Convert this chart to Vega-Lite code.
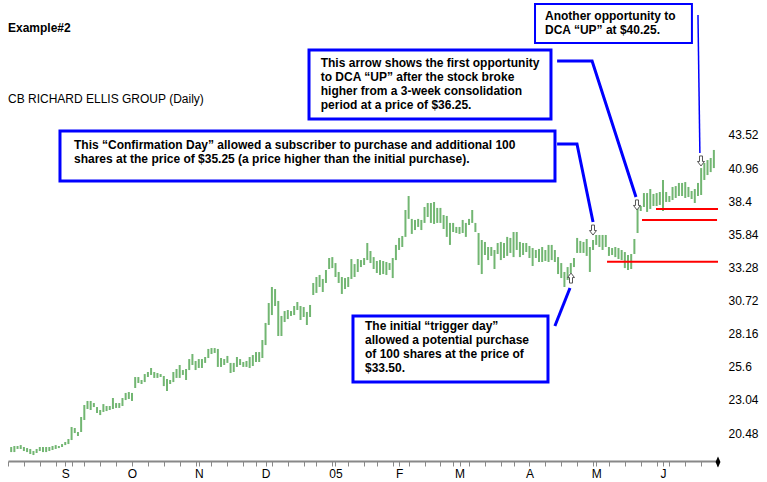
{
  "$schema": "https://vega.github.io/schema/vega-lite/v6.json",
  "width": 710,
  "height": 461,
  "autosize": {"type": "none"},
  "padding": {"left": 8, "top": 0, "right": 49, "bottom": 21},
  "background": "white",
  "config": {"view": {"stroke": null}, "font": "Liberation Sans"},
  "datasets": {
    "bars": [
      {"t":-17,"p":19.40,"lo":19.01},{"t":-16,"p":19.48,"lo":19.01},{"t":-15,"p":19.48,"lo":19.25},{"t":-14,"p":19.55,"lo":19.25},
      {"t":-13,"p":19.40,"lo":19.09},{"t":-12,"p":19.32,"lo":19.01},{"t":-11,"p":19.25,"lo":18.86},{"t":-10,"p":19.09,"lo":18.78},
      {"t":-9,"p":19.25,"lo":18.94},{"t":-8,"p":19.40,"lo":19.09},{"t":-7,"p":19.40,"lo":19.01},{"t":-6,"p":19.40,"lo":19.01},
      {"t":-5,"p":19.40,"lo":19.09},{"t":-4,"p":19.48,"lo":19.17},{"t":-3,"p":19.55,"lo":19.25},{"t":-2,"p":19.48,"lo":19.32},
      {"t":-1,"p":19.63,"lo":19.40},{"t":0,"p":19.79,"lo":19.55},{"t":1,"p":20.02,"lo":19.63},{"t":2,"p":20.95,"lo":19.94},
      {"t":3,"p":20.87,"lo":20.48},{"t":4,"p":20.56,"lo":20.25},{"t":5,"p":21.72,"lo":20.56},{"t":6,"p":22.65,"lo":21.49},
      {"t":7,"p":22.96,"lo":22.34},{"t":8,"p":22.96,"lo":22.26},{"t":9,"p":22.80,"lo":22.49},{"t":10,"p":22.49,"lo":22.03},
      {"t":11,"p":22.26,"lo":21.87},{"t":12,"p":22.72,"lo":22.11},{"t":13,"p":22.57,"lo":22.18},{"t":14,"p":22.57,"lo":22.26},
      {"t":15,"p":23.19,"lo":22.34},{"t":16,"p":22.80,"lo":22.42},{"t":17,"p":22.80,"lo":22.42},{"t":18,"p":23.19,"lo":22.57},
      {"t":19,"p":23.58,"lo":23.03},{"t":20,"p":23.65,"lo":23.11},{"t":21,"p":23.58,"lo":22.96},{"t":22,"p":24.81,"lo":23.96},
      {"t":23,"p":24.81,"lo":24.35},{"t":24,"p":24.58,"lo":24.27},{"t":25,"p":25.04,"lo":24.42},{"t":26,"p":25.20,"lo":24.81},
      {"t":27,"p":25.51,"lo":24.97},{"t":28,"p":25.20,"lo":24.74},{"t":29,"p":25.12,"lo":24.74},{"t":30,"p":25.04,"lo":24.81},
      {"t":31,"p":24.89,"lo":24.11},{"t":32,"p":24.66,"lo":23.73},{"t":33,"p":24.58,"lo":24.27},{"t":34,"p":25.20,"lo":24.42},
      {"t":35,"p":25.43,"lo":24.74},{"t":36,"p":25.74,"lo":24.74},{"t":37,"p":25.35,"lo":24.97},{"t":38,"p":25.43,"lo":24.58},
      {"t":39,"p":26.20,"lo":25.35},{"t":40,"p":26.59,"lo":25.74},{"t":41,"p":26.05,"lo":25.35},{"t":42,"p":26.20,"lo":25.51},
      {"t":43,"p":26.20,"lo":25.51},{"t":44,"p":26.36,"lo":25.90},{"t":45,"p":26.98,"lo":26.28},{"t":46,"p":27.05,"lo":26.59},
      {"t":47,"p":27.05,"lo":26.67},{"t":48,"p":26.98,"lo":25.59},{"t":49,"p":26.28,"lo":25.59},{"t":50,"p":26.20,"lo":25.74},
      {"t":51,"p":26.44,"lo":25.90},{"t":52,"p":25.90,"lo":25.12},{"t":53,"p":25.90,"lo":25.20},{"t":54,"p":26.36,"lo":25.59},
      {"t":55,"p":26.20,"lo":25.74},{"t":56,"p":25.97,"lo":25.59},{"t":57,"p":26.05,"lo":25.59},{"t":58,"p":26.36,"lo":25.51},
      {"t":59,"p":26.51,"lo":25.66},{"t":60,"p":26.74,"lo":25.97},{"t":61,"p":26.74,"lo":25.97},{"t":62,"p":27.67,"lo":26.28},
      {"t":63,"p":28.99,"lo":27.28},{"t":64,"p":30.53,"lo":28.83},{"t":65,"p":31.77,"lo":29.60},{"t":66,"p":31.61,"lo":30.30},
      {"t":67,"p":30.69,"lo":27.98},{"t":68,"p":29.53,"lo":27.98},{"t":69,"p":29.91,"lo":29.06},{"t":70,"p":29.99,"lo":29.29},
      {"t":71,"p":29.91,"lo":29.53},{"t":72,"p":30.30,"lo":29.60},{"t":73,"p":30.61,"lo":29.99},{"t":74,"p":30.30,"lo":29.22},
      {"t":75,"p":30.22,"lo":29.45},{"t":76,"p":29.84,"lo":28.83},{"t":77,"p":30.38,"lo":29.45},{"t":78,"p":32.08,"lo":31.15},
      {"t":79,"p":32.54,"lo":31.31},{"t":80,"p":32.70,"lo":31.77},{"t":81,"p":32.39,"lo":31.38},{"t":82,"p":33.08,"lo":32.08},
      {"t":83,"p":34.01,"lo":33.16},{"t":84,"p":34.08,"lo":33.23},{"t":85,"p":33.62,"lo":32.54},{"t":86,"p":32.93,"lo":32.08},
      {"t":87,"p":32.54,"lo":31.23},{"t":88,"p":32.46,"lo":31.61},{"t":89,"p":32.54,"lo":31.77},{"t":90,"p":33.93,"lo":32.39},
      {"t":91,"p":33.54,"lo":32.54},{"t":92,"p":33.93,"lo":32.93},{"t":93,"p":33.85,"lo":33.31},{"t":94,"p":34.01,"lo":33.47},
      {"t":95,"p":35.17,"lo":33.85},{"t":96,"p":34.55,"lo":33.62},{"t":97,"p":34.08,"lo":33.16},{"t":98,"p":33.78,"lo":32.85},
      {"t":99,"p":33.85,"lo":32.70},{"t":100,"p":33.78,"lo":32.77},{"t":101,"p":33.70,"lo":32.70},{"t":102,"p":33.62,"lo":33.08},
      {"t":103,"p":34.01,"lo":32.46},{"t":104,"p":35.02,"lo":33.85},{"t":105,"p":35.56,"lo":34.63},{"t":106,"p":35.71,"lo":34.86},
      {"t":107,"p":37.72,"lo":35.64},{"t":108,"p":38.80,"lo":37.03},{"t":109,"p":37.03,"lo":35.87},{"t":110,"p":36.95,"lo":36.17},
      {"t":111,"p":37.03,"lo":36.41},{"t":112,"p":36.95,"lo":36.17},{"t":113,"p":37.95,"lo":36.72},{"t":114,"p":38.26,"lo":37.18},
      {"t":115,"p":38.26,"lo":36.72},{"t":116,"p":38.34,"lo":36.64},{"t":117,"p":37.88,"lo":36.72},{"t":118,"p":37.88,"lo":36.72},
      {"t":119,"p":37.33,"lo":36.25},{"t":120,"p":37.26,"lo":35.64},{"t":121,"p":36.72,"lo":35.02},{"t":122,"p":36.72,"lo":36.02},
      {"t":123,"p":36.41,"lo":35.94},{"t":124,"p":36.41,"lo":35.87},{"t":125,"p":36.95,"lo":35.94},{"t":126,"p":36.72,"lo":35.64},
      {"t":127,"p":37.03,"lo":36.56},{"t":128,"p":37.72,"lo":36.72},{"t":129,"p":36.72,"lo":36.02},{"t":130,"p":35.94,"lo":33.47},
      {"t":131,"p":35.40,"lo":32.77},{"t":132,"p":35.25,"lo":34.24},{"t":133,"p":34.86,"lo":33.85},{"t":134,"p":34.86,"lo":34.17},
      {"t":135,"p":34.63,"lo":33.16},{"t":136,"p":35.17,"lo":34.32},{"t":137,"p":35.25,"lo":33.85},{"t":138,"p":35.17,"lo":34.01},
      {"t":139,"p":35.64,"lo":34.17},{"t":140,"p":35.56,"lo":34.40},{"t":141,"p":36.02,"lo":34.08},{"t":142,"p":36.02,"lo":34.63},
      {"t":143,"p":35.25,"lo":34.08},{"t":144,"p":35.17,"lo":34.24},{"t":145,"p":35.17,"lo":34.47},{"t":146,"p":34.94,"lo":34.01},
      {"t":147,"p":34.78,"lo":33.39},{"t":148,"p":34.63,"lo":34.01},{"t":149,"p":34.71,"lo":33.70},{"t":150,"p":34.86,"lo":33.70},
      {"t":151,"p":34.63,"lo":33.78},{"t":152,"p":35.02,"lo":33.70},{"t":153,"p":35.02,"lo":33.85},{"t":154,"p":34.63,"lo":33.70},
      {"t":155,"p":34.08,"lo":32.77},{"t":156,"p":33.62,"lo":32.46},{"t":157,"p":32.93,"lo":31.77},{"t":158,"p":33.31,"lo":32.31},
      {"t":159,"p":33.62,"lo":32.85},{"t":160,"p":34.01,"lo":33.31},{"t":161,"p":35.56,"lo":34.40},{"t":162,"p":35.33,"lo":34.40},
      {"t":163,"p":35.25,"lo":34.40},{"t":164,"p":35.48,"lo":34.17},{"t":165,"p":34.86,"lo":32.93},{"t":166,"p":35.40,"lo":34.63},
      {"t":167,"p":35.79,"lo":35.02},{"t":168,"p":35.79,"lo":34.86},{"t":169,"p":35.79,"lo":34.63},{"t":170,"p":35.79,"lo":34.86},
      {"t":171,"p":34.86,"lo":34.17},{"t":172,"p":34.78,"lo":34.24},{"t":173,"p":34.86,"lo":34.08},{"t":174,"p":34.78,"lo":33.93},
      {"t":175,"p":34.63,"lo":33.85},{"t":176,"p":34.47,"lo":33.23},{"t":177,"p":34.24,"lo":33.08},{"t":178,"p":34.32,"lo":33.16},
      {"t":179,"p":35.48,"lo":34.32},{"t":180,"p":37.95,"lo":35.94},{"t":181,"p":38.03,"lo":37.64},{"t":182,"p":39.03,"lo":37.95},
      {"t":183,"p":39.03,"lo":37.57},{"t":184,"p":39.34,"lo":37.80},{"t":185,"p":38.96,"lo":38.03},{"t":186,"p":39.03,"lo":38.03},
      {"t":187,"p":39.11,"lo":38.11},{"t":188,"p":40.04,"lo":37.64},{"t":189,"p":39.11,"lo":38.34},{"t":190,"p":38.80,"lo":38.34},
      {"t":191,"p":39.50,"lo":38.49},{"t":192,"p":39.57,"lo":38.65},{"t":193,"p":39.81,"lo":38.80},{"t":194,"p":39.81,"lo":38.80},
      {"t":195,"p":39.88,"lo":38.65},{"t":196,"p":39.50,"lo":38.72},{"t":197,"p":39.19,"lo":38.57},{"t":198,"p":39.34,"lo":38.26},
      {"t":199,"p":39.81,"lo":38.80},{"t":200,"p":40.96,"lo":38.88},{"t":201,"p":41.35,"lo":40.04},{"t":202,"p":41.58,"lo":40.42},
      {"t":203,"p":41.74,"lo":40.65},{"t":204,"p":42.36,"lo":40.96}
    ],
    "reds": [
      {"t":170.4,"t2":205.3,"p":33.72},
      {"t":181.4,"t2":205.0,"p":36.95},
      {"t":185.8,"t2":205.3,"p":37.80}
    ],
    "links": [
      {"g":"A","k":1,"t":199.0,"p":52.79},{"g":"A","k":2,"t":199.6,"p":42.12},
      {"g":"B","k":1,"t":154.7,"p":49.24},{"g":"B","k":2,"t":165.7,"p":49.24},{"g":"B","k":3,"t":179.5,"p":38.72},
      {"g":"C","k":1,"t":154.7,"p":42.82},{"g":"C","k":2,"t":160.95,"p":42.82},{"g":"C","k":3,"t":166.0,"p":36.79},
      {"g":"D","k":1,"t":154.0,"p":28.75},{"g":"D","k":2,"t":158.75,"p":31.69}
    ],
    "boxes": [
      {"g":"A","t":147.75,"t2":197.1,"p":53.64,"p2":50.63},
      {"g":"B","t":76.67,"t2":152.77,"p":50.09,"p2":44.75},
      {"g":"C","t":-1.65,"t2":154.03,"p":43.83,"p2":39.96},
      {"g":"D","t":90.5,"t2":151.83,"p":29.53,"p2":24.43}
    ],
    "notes": [
      {"t":150.9,"p":53.08,"txt":"Another opportunity to\nDCA “UP” at $40.25."},
      {"t":80.35,"p":49.47,"txt":"This arrow shows the first opportunity\nto DCA “UP” after the stock broke\nhigher from a 3-week consolidation\nperiod at a price of $36.25."},
      {"t":2.76,"p":43.13,"txt":"This “Confirmation Day” allowed a subscriber to purchase and additional 100\nshares at the price of $35.25 (a price higher than the initial purchase)."},
      {"t":94.28,"p":29.16,"txt":"The initial “trigger day”\nallowed a potential purchase\nof 100 shares at the price of\n$33.50."}
    ],
    "arrows": [
      {"t":159.07,"p":32.46,"dir":"up"},
      {"t":165.99,"p":36.17,"dir":"down"},
      {"t":179.82,"p":38.11,"dir":"down"},
      {"t":199.95,"p":41.51,"dir":"down"}
    ],
    "heads": [
      {"t":-18,"p":51.76,"txt":"Example#2","w":"bold"},
      {"t":-18,"p":46.30,"txt":"CB RICHARD ELLIS GROUP (Daily)","w":"normal"}
    ],
    "diamond": [{"t":205.3,"p":18.24}]
  },
  "encoding": {
    "x": {
      "field": "t",
      "type": "quantitative",
      "scale": {"domain": [-18, 205.3], "nice": false, "zero": false},
      "axis": {
        "title": null,
        "grid": false,
        "values": [-18,-13,-8,-3,0,2,6,11,16,21,26,31,36,41,42,46,51,56,60,63,65,70,75,79,84,85,89,94,98,103,105,108,113,118,122,124,127,132,137,141,146,151,156,161,166,167,171,176,181,186,188,190,195,200,205],
        "labelExpr": "datum.value==0?'S':datum.value==21?'O':datum.value==42?'N':datum.value==63?'D':datum.value==85?'05':datum.value==105?'F':datum.value==124?'M':datum.value==146?'A':datum.value==167?'M':datum.value==188?'J':''",
        "labelOverlap": false,
        "labelFlush": false,
        "labelFont": "Liberation Sans",
        "labelFontSize": 12,
        "labelColor": "#000000",
        "labelPadding": 2,
        "tickSize": 5,
        "tickColor": "#888888",
        "tickWidth": 1,
        "domainColor": "#888888",
        "domainWidth": 2
      }
    },
    "y": {
      "field": "p",
      "type": "quantitative",
      "scale": {"domain": [18.32, 53.95], "nice": false, "zero": false},
      "axis": {
        "orient": "right",
        "title": null,
        "grid": false,
        "ticks": false,
        "domain": false,
        "values": [20.48, 23.04, 25.6, 28.16, 30.72, 33.28, 35.84, 38.4, 40.96, 43.52],
        "format": ".4~g",
        "labelFont": "Liberation Sans",
        "labelFontSize": 12,
        "labelColor": "#000000",
        "labelPadding": 10,
        "labelOverlap": false,
        "labelFlush": false
      }
    }
  },
  "layer": [
    {
      "data": {"name": "bars"},
      "mark": {"type": "rule", "color": "#72b672", "strokeWidth": 2},
      "encoding": {"y2": {"field": "lo"}}
    },
    {
      "data": {"name": "reds"},
      "mark": {"type": "rule", "color": "#ff0000", "strokeWidth": 2},
      "encoding": {"x2": {"field": "t2"}}
    },
    {
      "data": {"name": "links"},
      "transform": [{"filter": "datum.g != 'A'"}],
      "mark": {"type": "line", "color": "#0000ff", "strokeWidth": 3},
      "encoding": {"detail": {"field": "g"}, "order": {"field": "k"}}
    },
    {
      "data": {"name": "links"},
      "transform": [{"filter": "datum.g == 'A'"}],
      "mark": {"type": "line", "color": "#0000ff", "strokeWidth": 1.5},
      "encoding": {"detail": {"field": "g"}, "order": {"field": "k"}}
    },
    {
      "data": {"name": "boxes"},
      "transform": [{"filter": "datum.g != 'A'"}],
      "mark": {"type": "rect", "fill": "#ffffff", "stroke": "#0000ff", "strokeWidth": 3},
      "encoding": {"x2": {"field": "t2"}, "y2": {"field": "p2"}}
    },
    {
      "data": {"name": "boxes"},
      "transform": [{"filter": "datum.g == 'A'"}],
      "mark": {"type": "rect", "fill": "#ffffff", "stroke": "#0000ff", "strokeWidth": 2},
      "encoding": {"x2": {"field": "t2"}, "y2": {"field": "p2"}}
    },
    {
      "data": {"name": "notes"},
      "mark": {"type": "text", "align": "left", "baseline": "top", "font": "Liberation Sans", "fontSize": 12, "fontWeight": "bold", "color": "#000000", "lineBreak": "\n", "lineHeight": 14},
      "encoding": {"text": {"field": "txt"}}
    },
    {
      "data": {"name": "arrows"},
      "transform": [{"filter": "datum.dir == 'down'"}],
      "mark": {"type": "point", "shape": "M-0.3,-1L0.3,-1L0.3,0.1L0.7,0.1L0,1L-0.7,0.1L-0.3,0.1Z", "filled": false, "fill": "#ffffff", "fillOpacity": 1, "stroke": "#555555", "strokeWidth": 1, "size": 100, "opacity": 1},
      "encoding": {}
    },
    {
      "data": {"name": "arrows"},
      "transform": [{"filter": "datum.dir == 'up'"}],
      "mark": {"type": "point", "shape": "M-0.3,1L0.3,1L0.3,-0.1L0.7,-0.1L0,-1L-0.7,-0.1L-0.3,-0.1Z", "filled": false, "fill": "#ffffff", "fillOpacity": 1, "stroke": "#555555", "strokeWidth": 1, "size": 100, "opacity": 1},
      "encoding": {}
    },
    {
      "data": {"name": "heads"},
      "transform": [{"filter": "datum.w == 'bold'"}],
      "mark": {"type": "text", "align": "left", "baseline": "middle", "font": "Liberation Sans", "fontSize": 12, "fontWeight": "bold", "color": "#000000"},
      "encoding": {"text": {"field": "txt"}}
    },
    {
      "data": {"name": "heads"},
      "transform": [{"filter": "datum.w == 'normal'"}],
      "mark": {"type": "text", "align": "left", "baseline": "middle", "font": "Liberation Sans", "fontSize": 12, "color": "#000000"},
      "encoding": {"text": {"field": "txt"}}
    },
    {
      "data": {"name": "diamond"},
      "mark": {"type": "point", "shape": "M0,-1L0.45,0L0,1L-0.45,0Z", "filled": true, "color": "#000000", "size": 120, "opacity": 1},
      "encoding": {}
    }
  ]
}
